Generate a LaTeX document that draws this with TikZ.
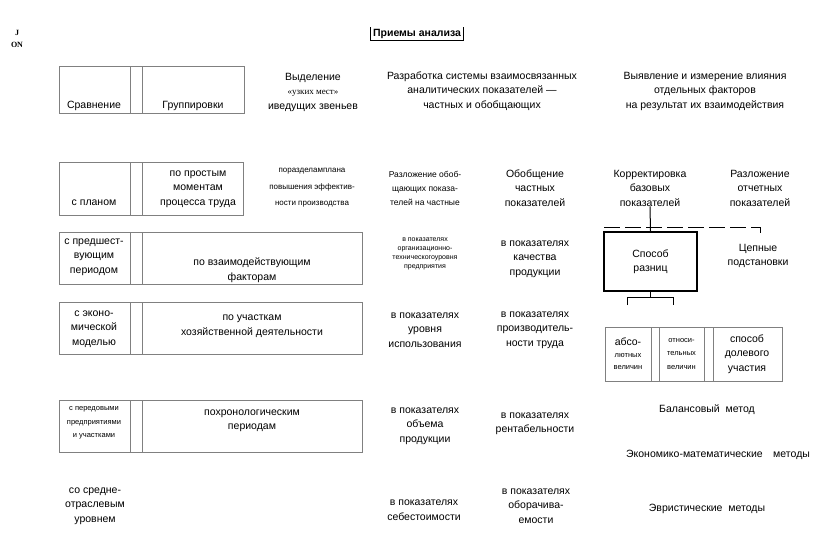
\documentclass[tikz,border=0pt]{standalone}
\usepackage{fontspec}
\setmainfont{Liberation Sans}
\newfontfamily\seriffont{Liberation Serif}
\begin{document}
\begin{tikzpicture}[x=1pt,y=-1pt,
  box/.style={draw=black!50, line width=0.8pt},
  t/.style={align=center, font=\fontsize{10.5}{14.5}\selectfont, inner sep=0pt},
  ts/.style={align=center, font=\fontsize{8.5}{14}\selectfont, inner sep=0pt},
  tx/.style={align=center, font=\fontsize{7}{9}\selectfont, inner sep=0pt},
  conn/.style={draw=black, line width=1pt},
  thickbox/.style={draw=black, line width=1.6pt, minimum width=93pt, minimum height=59pt, inner sep=0pt, align=center, font=\fontsize{10.5}{14}\selectfont}]
\path[use as bounding box, fill=white] (0,0) rectangle (816,549);

% corner mark
\node[align=center, font=\seriffont\bfseries\fontsize{8}{12}\selectfont, inner sep=0pt] (mark) at (17,39) {J\\ON};

% title
\node[font=\bfseries\fontsize{10.5}{12}\selectfont, inner xsep=2pt, inner ysep=2pt] (title) at (417,34) {Приемы анализа};
\draw[line width=0.9pt] (title.north west) -- (title.south west) -- (title.south east) -- (title.north east);

% ---- left boxes ----
\draw[box] (59,66) rectangle (244,113) (130,66) -- (130,113) (142,66) -- (142,113);
\draw[box] (59,162) rectangle (243,215) (130,162) -- (130,215) (142,162) -- (142,215);
\draw[box] (59,232) rectangle (362,284) (130,232) -- (130,284) (142,232) -- (142,284);
\draw[box] (59,302) rectangle (362,354) (130,302) -- (130,354) (142,302) -- (142,354);
\draw[box] (59,400) rectangle (362,452) (130,400) -- (130,452) (142,400) -- (142,452);

% row 1
\node[t] (sr1) at (94,106) {Сравнение};
\node[t] (gr1) at (193,106) {Группировки};
\node[t] (vyd) at (313,92) {Выделение\\{\seriffont\fontsize{9}{14}\selectfont «узких мест»}\\иведущих звеньев};
\node[t] (razr) at (482,91) {Разработка системы взаимосвязанных\\аналитических показателей —\\частных и обобщающих};
\node[t] (vyyav) at (705,91) {Выявление и измерение влияния\\отдельных факторов\\на результат их взаимодействия};

% row 2
\node[t] (splan) at (94,203) {с планом};
\node[t] (pprost) at (198,189) {по простым\\моментам\\процесса труда};
\node[ts, font=\fontsize{8}{16.5}\selectfont] (prazd) at (312,188) {поразделамплана\\повышения эффектив-\\ности производства};
\node[ts] (razl1) at (425,188) {Разложение обоб-\\щающих показа-\\телей на частные};
\node[t] (obob) at (535,188) {Обобщение\\частных\\показателей};
\node[t] (korr) at (650,188) {Корректировка\\базовых\\показателей};
\node[t] (razl2) at (760,188) {Разложение\\отчетных\\показателей};

% row 3
\node[t] (spred) at (94,257) {с предшест-\\вующим\\периодом};
\node[t] (pvz) at (252,270) {по взаимодействующим\\факторам};
\node[tx] (porg) at (425,254) {в показателях\\организационно-\\техническогоуровня\\предприятия};
\node[t] (pkach) at (535,259) {в показателях\\качества\\продукции};
\node[thickbox] (sposob) at (650.5,261.5) {Способ\\разниц};
\node[t] (cep) at (758,256) {Цепные\\подстановки};

% row 4
\node[t] (sekon) at (94,329) {с эконо-\\мической\\моделью};
\node[t] (puch) at (252,326) {по участкам\\хозяйственной деятельности};
\node[t] (pur) at (425,330) {в показателях\\уровня\\использования};
\node[t] (pproizv) at (535,330) {в показателях\\производитель-\\ности труда};
\node[draw=black!50, line width=0.8pt, minimum width=177pt, minimum height=54pt, inner sep=0pt] (vel) at (693.5,354) {};
\draw[box] (651,327) -- (651,381) (659,327) -- (659,381) (704,327) -- (704,381) (713,327) -- (713,381);
\node[align=center, inner sep=0pt] (abs) at (628,354) {{\fontsize{10.5}{13}\selectfont абсо-}\\{\fontsize{7.5}{13}\selectfont лютных}\\{\fontsize{7.5}{13}\selectfont величин}};
\node[tx, font=\fontsize{7.5}{13.5}\selectfont] (otn) at (681.5,354) {относи-\\тельных\\величин};
\node[t] (dol) at (747,354) {способ\\долевого\\участия};

% row 5
\node[tx, font=\fontsize{7.5}{13.5}\selectfont] (sper) at (94,423) {с передовыми\\предприятиями\\и участками};
\node[t] (phron) at (252,421) {похронологическим\\периодам};
\node[t] (pob) at (425,426) {в показателях\\объема\\продукции};
\node[t] (prent) at (535,424) {в показателях\\рентабельности};
\node[t] (bal) at (707,410) {Балансовый\ \ метод};
\node[t] (ekon) at (718,455) {Экономико-математические\quad методы};

% row 6
\node[t] (ssred) at (95,506) {со средне-\\отраслевым\\уровнем};
\node[t] (pseb) at (424,510) {в показателях\\себестоимости};
\node[t] (pobor) at (536,506) {в показателях\\оборачива-\\емости};
\node[t] (evr) at (707,509) {Эвристические\ \ методы};

% connectors
\coordinate (hl) at (604,227);
\coordinate (hr) at (760,227);
\coordinate (hd) at (760,233);
\draw[conn] (korr.south) -- (sposob.north);
\draw[conn, dash pattern=on 16pt off 5pt] (hl) -- (hr);
\draw[conn] (hr) -- (hd);
\coordinate (bm) at (650.5,297);
\coordinate (bl) at (627,297);
\coordinate (br) at (673,297);
\coordinate (bld) at (627,305);
\coordinate (brd) at (673,305);
\draw[conn] (sposob.south) -- (bm);
\draw[conn] (bld) -- (bl) -- (br) -- (brd);
\end{tikzpicture}
\end{document}
